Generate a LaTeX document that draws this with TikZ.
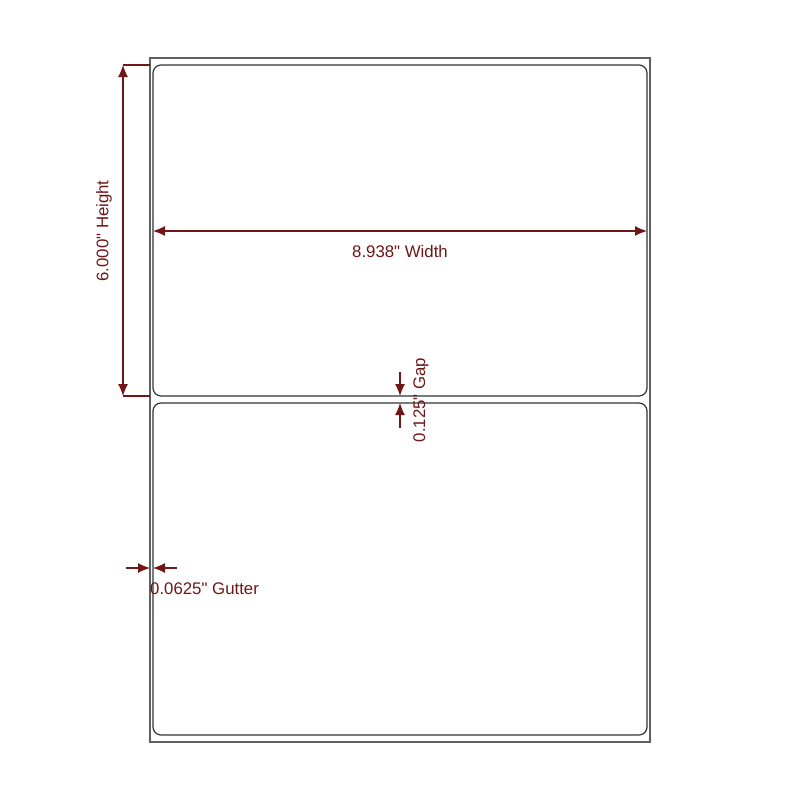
\documentclass[tikz,border=0pt]{standalone}
\usepackage{fontspec}
\setmainfont{Liberation Sans}[Ligatures=TeXOff]
\usepackage{tikz}
\usetikzlibrary{calc,positioning,arrows.meta}

\definecolor{dimred}{RGB}{112,22,22}
\definecolor{sheetgray}{RGB}{95,95,95}

\begin{document}
\begin{tikzpicture}[
	%	style def
    x=1pt, y=-1pt,
    sheet line/.style={line width=1.2pt, sheetgray},
    label line/.style={line width=1.2pt, black!80, rounded corners=8pt},
    ext line/.style={line width=1.2pt, dimred},
    dim arrow/.style={line width=1.2pt, dimred, -{Latex[length=12pt,width=10pt]}},
    dim both/.style={line width=1.2pt, dimred, {Latex[length=12pt,width=10pt]}-{Latex[length=12pt,width=10pt]}},
    dim text/.style={color=dimred, font=\fontsize{16.8}{19}\selectfont, inner sep=0pt}
    ]
    \useasboundingbox (0,0) rectangle (800,800);

	% sheet and the two labels
    \draw[sheet line] (150,58) coordinate (S1) rectangle (650,742) coordinate (S2);
    \draw[label line] (153,65) coordinate (A1) rectangle (647,396) coordinate (A2);
    \draw[label line] (153,403) coordinate (B1) rectangle (647,735) coordinate (B2);

	% height
    \coordinate (h1) at (123,65);
    \coordinate (h2) at (123,396);
    \draw[ext line] (150,65) coordinate (he1) -- (h1);
    \draw[ext line] (150,396) coordinate (he2) -- (h2);
    \draw[dim both] (h1) -- (h2);
    \node[dim text, rotate=90] (heighttxt) at (104,231) {6.000" Height};

	% width
    \coordinate (w1) at (153,231);
    \coordinate (w2) at (647,231);
    \draw[dim both] (w1) -- (w2);
    \node[dim text] (widthtxt) at (400,251) {8.938" Width};

	% gap
    \coordinate (g1) at (400,372);
    \coordinate (g2) at (400,396);
    \coordinate (g3) at (400,428);
    \coordinate (g4) at (400,403);
    \draw[dim arrow] (g1) -- (g2);
    \draw[dim arrow] (g3) -- (g4);
    \node[dim text, rotate=90] (gaptxt) at (421,400) {0.125" Gap};

	% gutter
    \coordinate (t1) at (126,568);
    \coordinate (t2) at (150,568);
    \coordinate (t3) at (177,568);
    \coordinate (t4) at (153,568);
    \draw[dim arrow] (t1) -- (t2);
    \draw[dim arrow] (t3) -- (t4);
    \node[dim text, anchor=west] (guttertxt) at (150,589) {0.0625" Gutter};
\end{tikzpicture}
\end{document}
